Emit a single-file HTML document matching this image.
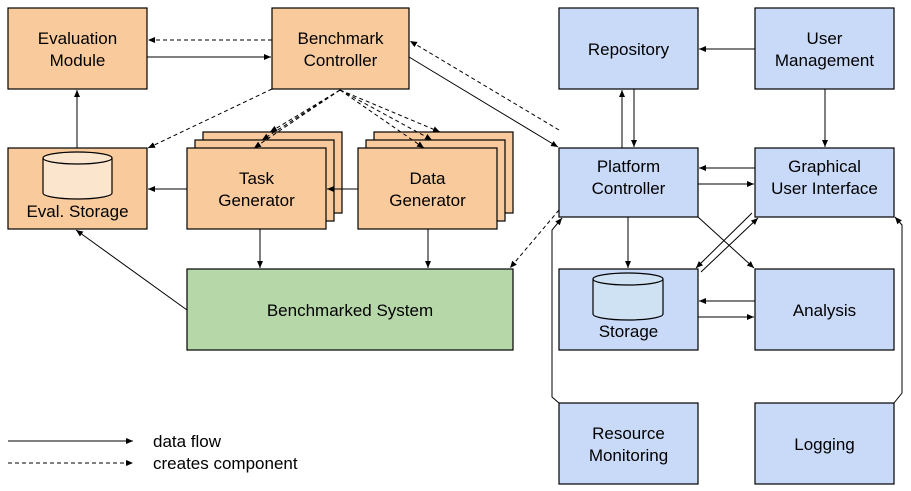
<!DOCTYPE html>
<html><head><style>
body{margin:0;background:#fff;}
svg{display:block;font-family:"Liberation Sans",Arial,sans-serif;}
text{font-size:17px;fill:#000;text-anchor:middle;}
</style></head><body>
<svg width="911" height="491" viewBox="0 0 911 491" xmlns="http://www.w3.org/2000/svg">
<defs>
<marker id="a" markerWidth="8" markerHeight="8" refX="7" refY="4" orient="auto" markerUnits="userSpaceOnUse">
<path d="M0,1 L7,4 L0,7 z" fill="#000"/></marker>
</defs>
<g stroke="#000" stroke-width="1.2">
<!-- orange boxes -->
<rect x="8" y="8" width="139" height="81" fill="#f9cb9c"/>
<rect x="272" y="8" width="137" height="81" fill="#f9cb9c"/>
<rect x="8" y="148" width="139" height="81" fill="#f9cb9c"/>
<rect x="203" y="132" width="139" height="81" fill="#f9cb9c"/>
<rect x="195" y="140" width="139" height="81" fill="#f9cb9c"/>
<rect x="187" y="148" width="139" height="81" fill="#f9cb9c"/>
<rect x="374" y="132" width="139" height="81" fill="#f9cb9c"/>
<rect x="366" y="140" width="139" height="81" fill="#f9cb9c"/>
<rect x="358" y="148" width="139" height="81" fill="#f9cb9c"/>
<rect x="187" y="269" width="326" height="81" fill="#b6d7a8"/>
<!-- blue boxes -->
<rect x="559" y="8" width="139" height="81" fill="#c9daf8"/>
<rect x="755" y="8" width="139" height="81" fill="#c9daf8"/>
<rect x="559" y="148" width="139" height="69" fill="#c9daf8"/>
<rect x="755" y="148" width="139" height="69" fill="#c9daf8"/>
<rect x="559" y="269" width="139" height="81" fill="#c9daf8"/>
<rect x="755" y="269" width="139" height="81" fill="#c9daf8"/>
<rect x="559" y="403" width="139" height="81" fill="#c9daf8"/>
<rect x="755" y="403" width="139" height="81" fill="#c9daf8"/>
<!-- cylinders -->
<path d="M43,158 v35 a34.5,6 0 0 0 69,0 v-35" fill="#fce5cd"/>
<ellipse cx="77.5" cy="158" rx="34.5" ry="6" fill="#fce5cd"/>
<path d="M593,279 v35 a35,6 0 0 0 70,0 v-35" fill="#cfe2f3"/>
<ellipse cx="628" cy="279" rx="35" ry="6" fill="#cfe2f3"/>
</g>
<g stroke="#000" stroke-width="1" fill="none" marker-end="url(#a)">
<line x1="147" y1="57" x2="271" y2="57"/>
<line x1="77" y1="148" x2="77" y2="90"/>
<line x1="358" y1="189" x2="327" y2="189"/>
<line x1="187" y1="189" x2="148" y2="189"/>
<line x1="260" y1="229" x2="260" y2="268"/>
<line x1="428" y1="229" x2="428" y2="268"/>
<line x1="187" y1="310" x2="76" y2="230"/>
<line x1="409" y1="57" x2="558" y2="147"/>
<line x1="622" y1="148" x2="622" y2="90"/>
<line x1="634" y1="89" x2="634" y2="147"/>
<line x1="755" y1="49" x2="699" y2="49"/>
<line x1="825" y1="89" x2="825" y2="147"/>
<line x1="755" y1="168" x2="699" y2="168"/>
<line x1="698" y1="184" x2="754" y2="184"/>
<line x1="628" y1="217" x2="628" y2="268"/>
<line x1="698" y1="217" x2="754" y2="268"/>
<line x1="752" y1="213" x2="696" y2="268"/>
<line x1="701" y1="272" x2="758" y2="218"/>
<line x1="755" y1="301" x2="699" y2="301"/>
<line x1="698" y1="317" x2="754" y2="317"/>
<path d="M559,403 L552,397 L552,230 L562,218"/>
<path d="M894,403 L902,393 L902,225 L895,217"/>
<line x1="8" y1="441" x2="133" y2="441"/>
</g>
<g stroke="#000" stroke-width="1" fill="none" stroke-dasharray="4,3" marker-end="url(#a)">
<line x1="272" y1="40" x2="148" y2="40"/>
<line x1="272" y1="89" x2="148" y2="148"/>
<line x1="340" y1="90" x2="270" y2="132"/>
<line x1="340" y1="90" x2="262" y2="140"/>
<line x1="340" y1="90" x2="254" y2="148"/>
<line x1="340" y1="90" x2="440" y2="132"/>
<line x1="340" y1="90" x2="432" y2="140"/>
<line x1="340" y1="90" x2="424" y2="148"/>
<line x1="559" y1="130" x2="410" y2="41"/>
<line x1="559" y1="210" x2="510" y2="268"/>
<line x1="8" y1="463" x2="133" y2="463"/>
</g>
<text x="77.5" y="44">Evaluation</text><text x="77.5" y="66">Module</text>
<text x="340.5" y="44">Benchmark</text><text x="340.5" y="66">Controller</text>
<text x="77.5" y="217">Eval. Storage</text>
<text x="256.5" y="184">Task</text><text x="256.5" y="206">Generator</text>
<text x="427.5" y="184">Data</text><text x="427.5" y="206">Generator</text>
<text x="350" y="316">Benchmarked System</text>
<text x="628.5" y="55">Repository</text>
<text x="824.5" y="44">User</text><text x="824.5" y="66">Management</text>
<text x="628.5" y="172">Platform</text><text x="628.5" y="194">Controller</text>
<text x="824.5" y="172">Graphical</text><text x="824.5" y="194">User Interface</text>
<text x="628.5" y="337">Storage</text>
<text x="824.5" y="316">Analysis</text>
<text x="628.5" y="439">Resource</text><text x="628.5" y="461">Monitoring</text>
<text x="824.5" y="450">Logging</text>
<text x="153" y="447" style="text-anchor:start">data flow</text>
<text x="153" y="469" style="text-anchor:start">creates component</text>
</svg>
</body></html>
